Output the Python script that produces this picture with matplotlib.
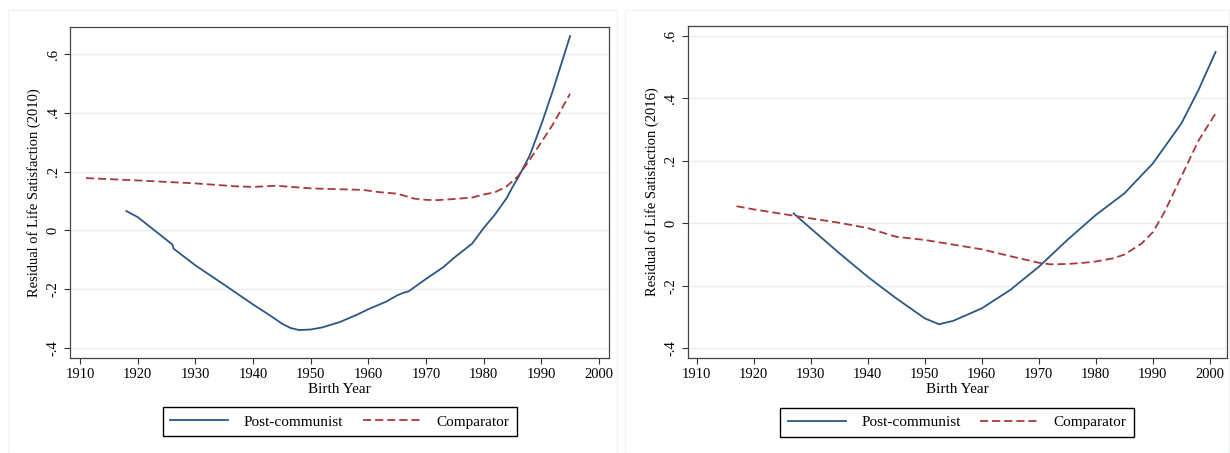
import matplotlib.pyplot as plt
from matplotlib.patches import Rectangle

plt.rcParams['font.family'] = ['Liberation Serif', 'DejaVu Serif']

# 2010 panel
years_pc_2010 = [1918, 1920, 1926, 1926.2, 1930, 1935, 1940, 1943, 1945, 1946.5, 1948, 1950,
                 1952, 1955, 1958, 1960, 1963, 1965, 1966, 1967, 1970, 1973, 1975, 1978,
                 1980, 1982, 1984, 1985, 1986, 1988, 1990, 1992, 1995]
vals_pc_2010 = [0.066, 0.045, -0.048, -0.062, -0.119, -0.185, -0.252, -0.29, -0.317, -0.332,
                -0.339, -0.337, -0.33, -0.312, -0.287, -0.268, -0.243, -0.221, -0.213,
                -0.207, -0.165, -0.125, -0.091, -0.045, 0.008, 0.055, 0.11, 0.147, 0.18,
                0.255, 0.36, 0.475, 0.661]
years_cmp_2010 = [1911, 1920, 1930, 1937, 1940, 1944, 1950, 1955, 1959, 1962, 1965, 1968,
                  1970, 1972, 1975, 1978, 1980, 1982, 1984, 1986, 1988, 1990, 1992, 1995]
vals_cmp_2010 = [0.178, 0.17, 0.16, 0.15, 0.148, 0.152, 0.143, 0.14, 0.138, 0.13, 0.125,
                 0.108, 0.104, 0.103, 0.107, 0.112, 0.122, 0.13, 0.15, 0.185, 0.24, 0.3,
                 0.36, 0.465]

# 2016 panel
years_pc_2016 = [1927, 1930, 1935, 1940, 1945, 1950, 1952.5, 1955, 1960, 1965, 1970, 1975,
                 1980, 1985, 1990, 1995, 1998, 2001]
vals_pc_2016 = [0.032, -0.016, -0.095, -0.171, -0.24, -0.304, -0.323, -0.312, -0.272,
                -0.213, -0.139, -0.053, 0.027, 0.096, 0.192, 0.32, 0.427, 0.549]
years_cmp_2016 = [1917, 1920, 1930, 1935, 1940, 1945, 1950, 1955, 1960, 1965, 1970, 1972,
                  1975, 1978, 1980, 1983, 1985, 1988, 1990, 1992, 1995, 1998, 2001]
vals_cmp_2016 = [0.055, 0.045, 0.016, 0.002, -0.015, -0.043, -0.053, -0.068, -0.083, -0.105,
                 -0.126, -0.131, -0.13, -0.126, -0.122, -0.112, -0.1, -0.065, -0.028, 0.035,
                 0.15, 0.265, 0.352]

x_ticks = list(range(1910, 2001, 10))
y_ticks = [-0.4, -0.2, 0, 0.2, 0.4, 0.6]
y_tick_labels = ['-.4', '-.2', '0', '.2', '.4', '.6']

blue = '#2b5784'
red = '#a8383e'

fig = plt.figure(figsize=(12.3, 4.53), dpi=100)

# faint panel frames
fig.patches.append(Rectangle((8 / 1230, 0), 609 / 1230, 443 / 453, transform=fig.transFigure,
                             fill=False, edgecolor='#eef2f4', linewidth=1))
fig.patches.append(Rectangle((625 / 1230, 0), 604 / 1230, 443 / 453, transform=fig.transFigure,
                             fill=False, edgecolor='#eef2f4', linewidth=1))

ax1 = fig.add_axes([70.4 / 1230, 95 / 453, 538.3 / 1230, 331 / 453])
ax2 = fig.add_axes([687.5 / 1230, 95 / 453, 539.5 / 1230, 332 / 453])

panels = [
    (ax1, years_pc_2010, vals_pc_2010, years_cmp_2010, vals_cmp_2010,
     'Residual of Life Satisfaction (2010)', (1908.3, 2001.7), (-0.434, 0.692)),
    (ax2, years_pc_2016, vals_pc_2016, years_cmp_2016, vals_cmp_2016,
     'Residual of Life Satisfaction (2016)', (1908.4, 2003.0), (-0.431, 0.632)),
]

for ax, xp, yp, xc, yc, ylab, xl, yl in panels:
    ax.plot(xp, yp, color=blue, linewidth=1.3, label='Post-communist')
    ax.plot(xc, yc, color=red, linewidth=1.3, dashes=(4.5, 2.2), label='Comparator')
    ax.set_xlim(*xl)
    ax.set_ylim(*yl)
    ax.set_xticks(x_ticks)
    ax.set_yticks(y_ticks)
    ax.set_yticklabels(y_tick_labels, rotation=90, va='center')
    ax.tick_params(labelsize=10.5, length=4, width=0.8, color='#333333')
    ax.grid(axis='y', color='#e6eef2', linewidth=1)
    ax.set_axisbelow(True)
    for s in ax.spines.values():
        s.set_color('#444444')
        s.set_linewidth(0.9)
    ax.set_xlabel('Birth Year', fontsize=11, labelpad=1)
    ax.set_ylabel(ylab, fontsize=10.5, labelpad=4)
    leg = ax.legend(loc='center', bbox_to_anchor=(0.5, -0.193), ncol=2, fontsize=11,
                    frameon=True, fancybox=False, edgecolor='black', framealpha=1,
                    handlelength=3.8, columnspacing=1.3, handletextpad=1.0,
                    borderpad=0.5)
    leg.get_frame().set_linewidth(1.0)

fig.savefig('out.png', dpi=100)
